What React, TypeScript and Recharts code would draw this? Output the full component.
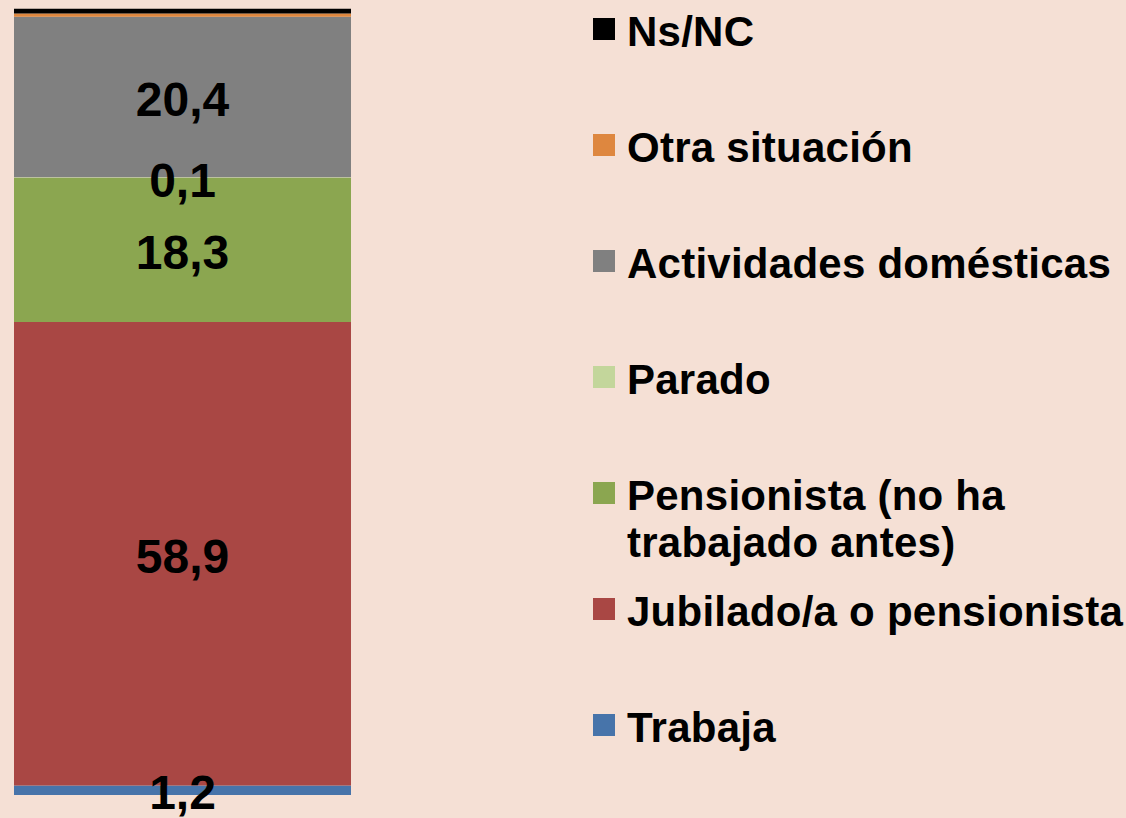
import React from 'react';
import { BarChart, Bar, XAxis, YAxis, Legend, LabelList } from 'recharts';

const categories = ['Total'];
const seriesKeys = ['trabaja', 'jubilado', 'pensionista', 'parado', 'domesticas', 'otra', 'nsnc'];
const seriesNames = [
  'Trabaja',
  'Jubilado/a o pensionista',
  'Pensionista (no ha trabajado antes)',
  'Parado',
  'Actividades domésticas',
  'Otra situación',
  'Ns/NC',
];
const legendLines = [
  ['Trabaja'],
  ['Jubilado/a o pensionista'],
  ['Pensionista (no ha', 'trabajado antes)'],
  ['Parado'],
  ['Actividades domésticas'],
  ['Otra situación'],
  ['Ns/NC'],
];
const seriesColors = ['#4774AA', '#A94744', '#8BA650', '#C3D69B', '#808080', '#DE873F', '#000000'];
const showLabels = [true, true, true, true, true, false, false];

const trabaja = [1.2];
const jubilado = [58.9];
const pensionista = [18.3];
const parado = [0.1];
const domesticas = [20.4];
const otra = [0.4];
const nsnc = [0.6];

const seriesValues = [trabaja, jubilado, pensionista, parado, domesticas, otra, nsnc];

const data = categories.map((name, i) => {
  const row: Record<string, any> = { name };
  seriesKeys.forEach((k, s) => {
    row[k] = seriesValues[s][i];
  });
  return row;
});

const BG = '#F5E0D5';
const FONT = '"Liberation Sans", Arial, sans-serif';

const fmt = (v: number) => v.toFixed(1).replace('.', ',');

const renderLabel = (props: any) => {
  const { x, y, width, height, value } = props;
  const cx = Number(x) + Number(width) / 2;
  const cy = Number(y) + Number(height) / 2;
  return (
    <text
      x={cx}
      y={cy + 0.355 * 48 + 2}
      textAnchor="middle"
      fontFamily={FONT}
      fontWeight="bold"
      fontSize={48}
      fill="#000"
    >
      {fmt(Number(value))}
    </text>
  );
};

const LegendContent = () => {
  const order = seriesKeys.map((_, i) => i).reverse();
  return (
    <div style={{ position: 'relative', width: 533, height: 818, fontFamily: FONT }}>
      {order.map((s, row) => (
        <div
          key={seriesKeys[s]}
          style={{ position: 'absolute', left: 0, top: 8 + 116 * row, width: 533 }}
        >
          <div
            style={{
              position: 'absolute',
              left: 0,
              top: 10,
              width: 22,
              height: 22,
              background: seriesColors[s],
            }}
          />
          <div
            style={{
              position: 'absolute',
              left: 34,
              top: 0,
              fontSize: 42,
              lineHeight: '47px',
              fontWeight: 'bold',
              letterSpacing: '0.25px',
              color: '#000',
              whiteSpace: 'nowrap',
            }}
          >
            {legendLines[s].map((line) => (
              <div key={line}>{line}</div>
            ))}
          </div>
        </div>
      ))}
    </div>
  );
};

export default function App() {
  return (
    <div
      style={{
        position: 'absolute',
        left: 0,
        top: 0,
        width: 1126,
        height: 818,
        background: BG,
        overflow: 'hidden',
        fontFamily: FONT,
      }}
    >
      <BarChart
        width={1126}
        height={818}
        data={data}
        margin={{ top: 8, right: 775, bottom: 23, left: 14 }}
        barCategoryGap={0}
        barGap={0}
      >
        <XAxis dataKey="name" hide />
        <YAxis hide domain={[0, 100]} />
        {seriesKeys.map((k, s) => (
          <Bar
            key={k}
            dataKey={k}
            name={seriesNames[s]}
            stackId="a"
            fill={seriesColors[s]}
            isAnimationActive={false}
          >
            {showLabels[s] && (
              <LabelList dataKey={k} content={renderLabel} />
            )}
          </Bar>
        ))}
        <Legend
          layout="vertical"
          align="center"
          verticalAlign="middle"
          wrapperStyle={{ left: 593, top: 0, width: 533, height: 818 }}
          content={() => <LegendContent />}
        />
      </BarChart>
    </div>
  );
}
